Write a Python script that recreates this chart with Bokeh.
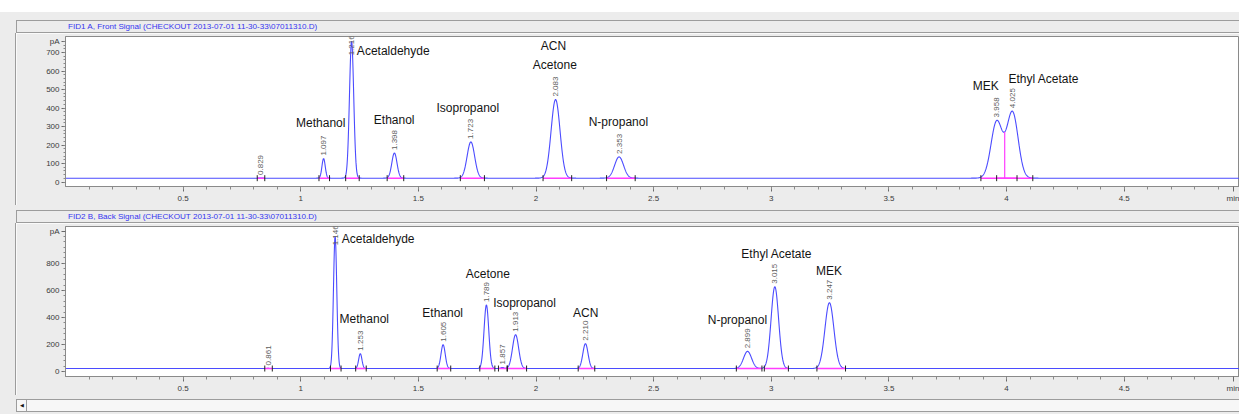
import numpy as np
from bokeh.plotting import figure
from bokeh.models import Range1d, FixedTicker, Div
from bokeh.layouts import column, row
from bokeh.core.properties import value
from bokeh.embed import file_html
from bokeh.resources import INLINE

# ---------------- data ----------------
# FID1 A, front signal
front_title = "FID1 A, Front Signal (CHECKOUT 2013-07-01 11-30-33\\07011310.D)"
front_rt = [0.829, 1.097, 1.216, 1.398, 1.723, 2.083, 2.353, 3.958, 4.025]
front_height = [1, 106, 740, 136, 196, 425, 115, 305, 356]
front_sigma = [0.005, 0.007, 0.009, 0.011, 0.016, 0.019, 0.019, 0.024, 0.024]
front_baseline = 21
front_names = ["Methanol", "Acetaldehyde", "Ethanol", "Isopropanol", "ACN",
               "Acetone", "N-propanol", "MEK", "Ethyl Acetate"]
front_name_x = [1.085, 1.393, 1.397, 1.71, 2.074, 2.08, 2.35, 3.911, 4.158]
front_name_y = [322, 710, 333, 398, 737, 633, 324, 521, 555]
front_drop_rt = [3.992]
front_y_ticks = [0, 100, 200, 300, 400, 500, 600, 700, 760]
front_y_labels = ["0", "100", "200", "300", "400", "500", "600", "700", "pA"]

# FID2 B, back signal
back_title = "FID2 B, Back Signal (CHECKOUT 2013-07-01 11-30-33\\07011310.D)"
back_rt = [0.861, 1.146, 1.253, 1.605, 1.789, 1.857, 1.913, 2.210, 2.899, 3.015, 3.247]
back_height = [1, 978, 110, 176, 470, 8, 250, 184, 127, 605, 487]
back_sigma = [0.005, 0.007, 0.007, 0.009, 0.010, 0.006, 0.013, 0.011, 0.017, 0.016, 0.019]
back_baseline = 22
back_names = ["Acetaldehyde", "Methanol", "Ethanol", "Acetone", "Isopropanol",
              "ACN", "N-propanol", "Ethyl Acetate", "MEK"]
back_name_x = [1.329, 1.27, 1.603, 1.795, 1.951, 2.211, 2.856, 3.023, 3.245]
back_name_y = [983, 390, 436, 718, 505, 436, 382, 872, 742]
back_drop_rt = []
back_y_ticks = [0, 200, 400, 600, 800, 1036]
back_y_labels = ["0", "200", "400", "600", "800", "pA"]

x_ticks = [0.5, 1, 1.5, 2, 2.5, 3, 3.5, 4, 4.5, 4.965]
x_tick_labels = ["0.5", "1", "1.5", "2", "2.5", "3", "3.5", "4", "4.5", "min"]

BG = "#ececec"
TRACE = "#4b4bff"
MAGENTA = "#ff3cff"
FONT = "Liberation Sans"


def signal(t, rt, h, s, base):
    y = np.full_like(t, float(base))
    for r, hh, ss in zip(rt, h, s):
        y += hh * np.exp(-0.5 * ((t - r) / ss) ** 2)
    return y


def panel(rt, h, s, base, names, nx, ny, drops, yt, yl, y0, y1, minor_step):
    p = figure(width=1223, height=172, x_range=Range1d(0, 4.99), y_range=Range1d(y0, y1),
               output_backend="svg", toolbar_location=None,
               min_border_left=49, min_border_right=0, min_border_top=3, min_border_bottom=18)
    p.border_fill_color = BG
    p.background_fill_color = "white"
    p.outline_line_color = "#8a8a8a"
    p.grid.visible = False

    t = np.linspace(0, 4.99, 5000)
    y = signal(t, rt, h, s, base)
    p.line(t, y, line_color=TRACE, line_width=1.1)

    rt_a = np.array(rt)
    s_a = np.array(s)
    starts = rt_a - 2.8 * s_a
    ends = rt_a + 3.6 * s_a
    p.segment(x0=starts, y0=[base] * len(rt), x1=ends, y1=[base] * len(rt),
              line_color=MAGENTA, line_width=1.4)
    p.scatter(x=np.concatenate([starts, ends]), y=[base] * (2 * len(rt)), marker="dash",
              angle=np.pi / 2, size=6, line_color="#222222")
    for d in drops:
        yv = signal(np.array([d]), rt, h, s, base)[0]
        p.segment(x0=[d], y0=[base], x1=[d], y1=[yv], line_color=MAGENTA, line_width=1.2)

    tops = signal(rt_a, rt, h, s, base)
    px = (y1 - y0) / 151.0
    lab_y = np.minimum(tops, y1 - 22 * px)
    p.text(x=rt_a, y=lab_y, text=[f"{r:.3f}" for r in rt], angle=np.pi / 2,
           text_align="left", text_baseline="middle", y_offset=-3,
           text_font=value(FONT), text_font_size="8px", text_color="#5d5d5d")

    p.text(x=nx, y=ny, text=names, text_align="center", text_baseline="middle",
           text_font=value(FONT), text_font_size="12px", text_color="#141414")

    xa = p.xaxis[0]
    xa.ticker = FixedTicker(ticks=x_ticks, minor_ticks=[round(0.1 * i, 1) for i in range(1, 50)])
    xa.major_label_overrides = {float(v): l for v, l in zip(x_ticks, x_tick_labels)}
    xa.major_tick_in = 0
    xa.major_tick_out = 5
    xa.minor_tick_in = 0
    xa.minor_tick_out = 3
    xa.major_label_standoff = 2
    xa.major_label_text_font = FONT
    xa.major_label_text_font_size = "8px"
    xa.major_label_text_color = "#3a3a3a"
    xa.axis_line_color = "#8a8a8a"
    xa.major_tick_line_color = "#6a6a6a"
    xa.minor_tick_line_color = "#8a8a8a"

    ya = p.yaxis[0]
    ya.ticker = FixedTicker(ticks=yt, minor_ticks=list(range(0, int(yt[-1]) + 1, minor_step)))
    ya.major_label_overrides = {float(v): l for v, l in zip(yt, yl)}
    ya.major_tick_in = 0
    ya.major_tick_out = 4
    ya.minor_tick_in = 0
    ya.minor_tick_out = 2
    ya.major_label_standoff = 2
    ya.major_label_text_font = FONT
    ya.major_label_text_font_size = "8px"
    ya.major_label_text_color = "#3a3a3a"
    ya.axis_line_color = "#8a8a8a"
    ya.major_tick_line_color = "#6a6a6a"
    ya.minor_tick_line_color = "#8a8a8a"
    return p


def title_div(text):
    html = (f'<div style="margin-left:16px;width:1221px;height:11px;border:1px solid #9c9c9c;'
            f'background:{BG};font-family:\'{FONT}\';font-size:8.1px;color:#3535f0;'
            f'line-height:11px;padding-left:51px;box-sizing:content-box;white-space:nowrap;'
            f'overflow:hidden;">{text}</div>')
    return Div(text=html, width=1239, height=13, margin=0, styles={"background-color": BG})


def side_div():
    return Div(text="", width=16, height=172, margin=0,
               styles={"background-color": BG, "border-right": "1px solid #9c9c9c",
                       "box-sizing": "border-box"})


p1 = panel(front_rt, front_height, front_sigma, front_baseline, front_names,
           front_name_x, front_name_y, front_drop_rt, front_y_ticks, front_y_labels,
           -24, 787, 20)
p2 = panel(back_rt, back_height, back_sigma, back_baseline, back_names,
           back_name_x, back_name_y, back_drop_rt, back_y_ticks, back_y_labels,
           -37, 1073, 40)

top_white = Div(text="", width=1239, height=12, margin=0, styles={"background-color": "white"})
top_gray = Div(text="", width=1239, height=8, margin=0, styles={"background-color": BG})
sep = Div(text='<div style="margin-left:16px;width:1223px;height:2px;border-top:1px solid #9c9c9c;'
               'border-bottom:1px solid #bdbdbd;"></div>',
          width=1239, height=5, margin=0, styles={"background-color": BG})
scroll = Div(text=('<div style="margin-top:3px;margin-left:16px;width:1223px;height:11px;'
                   'border:1px solid #9c9c9c;background:#f7f7f7;box-sizing:content-box;">'
                   '<div style="width:9px;height:11px;border-right:1px solid #9c9c9c;'
                   'font-size:5px;line-height:11px;text-align:center;color:#111;">&#9664;</div>'
                   '</div>'),
             width=1239, height=19, margin=0, styles={"background-color": BG})

layout = column(top_white, top_gray, title_div(front_title), row(side_div(), p1, spacing=0),
                sep, title_div(back_title), row(side_div(), p2, spacing=0), scroll, spacing=0)

open("out.html", "w").write(file_html(layout, INLINE))
